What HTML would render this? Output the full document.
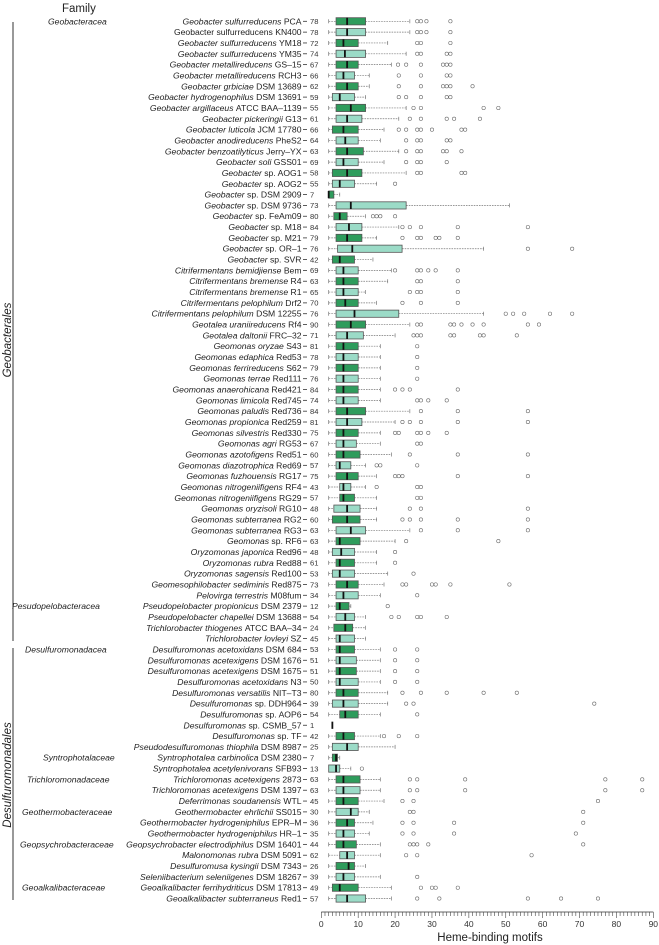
<!DOCTYPE html>
<html><head><meta charset="utf-8"><style>
html,body{margin:0;padding:0;background:#fff;}
svg{display:block;font-family:"Liberation Sans",sans-serif;}
</style></head><body>
<svg id="chart" width="659" height="945" viewBox="0 0 659 945" xmlns="http://www.w3.org/2000/svg"></svg>
<script>
const italics = ["Geobacter sulfurreducens","","Geobacter sulfurreducens","Geobacter sulfurreducens","Geobacter metallireducens","Geobacter metallireducens","Geobacter grbiciae","Geobacter hydrogenophilus","Geobacter argillaceus","Geobacter pickeringii","Geobacter luticola","Geobacter anodireducens","Geobacter benzoatilyticus","Geobacter soli","Geobacter","Geobacter","Geobacter","Geobacter","Geobacter","Geobacter","Geobacter","Geobacter","Geobacter","Citrifermentans bemidjiense","Citrifermentans bremense","Citrifermentans bremense","Citrifermentans pelophilum","Citrifermentans pelophilum","Geotalea uraniireducens","Geotalea daltonii","Geomonas oryzae","Geomonas edaphica","Geomonas ferrireducens","Geomonas terrae","Geomonas anaerohicana","Geomonas limicola","Geomonas paludis","Geomonas propionica","Geomonas silvestris","Geomonas agri","Geomonas azotofigens","Geomonas diazotrophica","Geomonas fuzhouensis","Geomonas nitrogeniifigens","Geomonas nitrogeniifigens","Geomonas oryzisoli","Geomonas subterranea","Geomonas subterranea","Geomonas","Oryzomonas japonica","Oryzomonas rubra","Oryzomonas sagensis","Geomesophilobacter sediminis","Pelovirga terrestris","Pseudopelobacter propionicus","Pseudopelobacter chapellei","Trichlorobacter thiogenes","Trichlorobacter lovleyi","Desulfuromonas acetoxidans","Desulfuromonas acetexigens","Desulfuromonas acetexigens","Desulfuromonas acetoxidans","Desulfuromonas versatilis","Desulfuromonas","Desulfuromonas","Desulfuromonas","Desulfuromonas","Pseudodesulfuromonas thiophila","Syntrophotalea carbinolica","Syntrophotalea acetylenivorans","Trichloromonas acetexigens","Trichloromonas acetexigens","Deferrimonas soudanensis","Geothermobacter ehrlichii","Geothermobacter hydrogeniphilus","Geothermobacter hydrogeniphilus","Geopsychrobacter electrodiphilus","Malonomonas rubra","Desulfuromusa kysingii","Seleniibacterium seleniigenes","Geoalkalibacter ferrihydriticus","Geoalkalibacter subterraneus"];
const strains = ["PCA","Geobacter sulfurreducens KN400","YM18","YM35","GS\u201315","RCH3","DSM 13689","DSM 13691","ATCC BAA\u20131139","G13","JCM 17780","PheS2","Jerry\u2013YX","GSS01","sp. AOG1","sp. AOG2","sp. DSM 2909","sp. DSM 9736","sp. FeAm09","sp. M18","sp. M21","sp. OR\u20131","sp. SVR","Bem","R4","R1","Drf2","DSM 12255","Rf4","FRC\u201332","S43","Red53","S62","Red111","Red421","Red745","Red736","Red259","Red330","RG53","Red51","Red69","RG17","RF4","RG29","RG10","RG2","RG3","sp. RF6","Red96","Red88","Red100","Red875","M08fum","DSM 2379","DSM 13688","ATCC BAA\u201334","SZ","DSM 684","DSM 1676","DSM 1675","N3","NIT\u2013T3","sp. DDH964","sp. AOP6","sp. CSMB_57","sp. TF","DSM 8987","DSM 2380","SFB93","2873","DSM 1397","WTL","SS015","EPR\u2013M","HR\u20131","DSM 16401","DSM 5091","DSM 7343","DSM 18267","DSM 17813","Red1"];
const counts = [78,78,72,74,67,66,62,59,55,61,66,64,63,69,58,55,7,73,80,84,79,76,42,69,63,65,70,76,90,71,81,78,79,76,84,74,84,81,75,67,60,57,75,43,57,48,60,63,63,48,61,53,73,34,12,54,24,45,53,51,51,50,80,39,54,1,42,25,7,13,63,63,45,30,36,35,44,62,26,39,49,57];
const q1 = [4,4,4,4,4,4,4,3,4,4,3,4,4,4,3,3,2,4,3.4,4,4,4.4,3,4,4,4,4,4,4,4,4,4,4,4,4,4,4,4,4,4,4,4,4,5,5,3.4,3,4,4,3,4,3,4,4,4,4,3.4,4,4,4,4,4,4,3,5,3,4,3,3,2,4,4,4,4,4,4,4,5,4,4,3,4];
const medians = [7,7,6,6.4,7,6,7,5,8,7,6,6.5,7,6,7,5,2,8,5,7.5,7,8.4,5,6,6,6,6.5,9,8,7,6,6,6,6,6,6,7,7,6,6,6,5,7,6,6,7,7,8,5,5.4,5,5,7,6,5,6.5,6.5,5,5,5,5,5,6,6,6.5,3,6,7,4,4,6,6,6,8,7,6,6,7,7.4,6,5,7];
const q3 = [12,12,10,12,10,9,10,9,12,11,10,10,11.4,10,11,9,3.4,23,7,11,11,21.9,9,10,10,10,10,21,12,11.4,10,10,10,10,10,10,12,11,10,9.5,10.5,8,10,8,9,10.5,10.5,12,10.5,9,9,9,10,10,7.5,9,8.5,9,9,9.5,9.5,10,10,10,10,3,9,10,4.4,5,10.5,10.5,10,10,9,9,9.5,9,9,9,10,12];
const whiskLo = [2,2,2,2,2,2,2,2,2,2,2,2,2,2,2,2,2,2,2,2,2,2,2,2,2,2,2,2,2,2,2,2,2,2,2,2,2,2,2,2,2,2,2,2,2,2,2,2,2,2,2,2,2,2,2,2,2,2,2,2,2,2,2,2,2,3,2,2,2,2,2,2,2,2,2,2,2,2,2,2,2,2];
const whiskHi = [24,24,18,23,19,13,13,12,23,21,17,16,21,17,23,15,5,51,12,21,15,44,14,19,18,12,15,44,24,20,16,16,16,16,16,16,24,20,16,16,19,12,15,12,15,15,15,24,20,15,15,18,17,16,8,12,12,12,16,16,16,16,18,18,16,3,16,20,5,8,16,16,17,13,14,13,16,16,12,16,19,19];
const outliers = [[26,27,28.5,35],[26,27,28.5,35],[26,27,35],[26,27,34,35],[20.8,23,27,33,34,35],[21,27,34,35],[21,27,33,34,35,41],[21,23,27,34,35],[25,27,44,48],[24,27,34,36,43],[21,23,26,27,30,38,39],[23,26,27,34,35],[23,26,27,33,34,38],[23,26,27,34],[26,27,38,39],[20],[],[],[14,15,16,20],[22,24,27,37,56],[22,26,27,31,32,37],[56,68],[],[20,26,27,29,31,37],[26,27,37],[24,26,27,37],[22,27,37],[50,52,55,62,68],[26,27,35,36,38,41,44,56,59],[25,26,27,35,36,43,44,53],[26],[26],[26],[26],[20,22,24,37],[26,27,29,34],[27,37,56],[22,24,27,37,56],[20,21,26,27,29,34],[26,27],[24,37,56],[15,16,26],[20,21,22,37,56],[15,26,27],[26,27],[24,27,56],[22,24,27,37,56],[27,37,56],[23,48],[20],[20],[25],[22,23,30,31,35,51],[26],[18],[19,21,26,27,34],[],[],[20,26],[20,26],[20,26],[20,26],[22,27,34,44,53],[23,25,74],[26],[],[17,21,26],[],[],[11],[24,26,39,77,87],[24,26,39,77,87],[22,25,75],[24,25,71],[22,25,36,71],[22,25,36,69],[24,25,26,29,71],[23,26,57],[],[26],[27,30,31,37],[26,32,56,65,75]];
const xTicks = [0,10,20,30,40,50,60,70,80,90];
const families = ["Geobacteracea","Pesudopelobacteracea","Desulfuromonadacea","Syntrophotalaceae","Trichloromonadaceae","Geothermobacteraceae","Geopsychrobacteraceae","Geoalkalibacteraceae"];
const familyRows = [0,54,58,68,70,73,76,80];
const familyX = [48,12,25,43,27,22,20,22];

const NS = "http://www.w3.org/2000/svg";
const svg = document.getElementById('chart');
const X0 = 321.3, X1 = 653.3, XMAX = 90;
const xs = v => X0 + v * (X1 - X0) / XMAX;
const ys = i => 21.3 + i * 10.83;
function mk(tag, attrs, parent) {
  const e = document.createElementNS(NS, tag);
  for (const k in attrs) e.setAttribute(k, attrs[k]);
  (parent || svg).appendChild(e);
  return e;
}

// header
let t = mk('text', {x: 62, y: 12, 'font-size': 11.5, fill: '#222'});
t.textContent = 'Family';



// order brackets
let l = mk('line', {x1: 13, y1: 22, x2: 13, y2: 641, stroke: '#333', 'stroke-width': 1});


l = mk('line', {x1: 13, y1: 648, x2: 13, y2: 900, stroke: '#333', 'stroke-width': 1});


t = mk('text', {x: 0, y: 0, 'font-size': 11.5, 'font-style': 'italic', fill: '#222', 'text-anchor': 'middle', transform: 'translate(11,340) rotate(-90)'});
t.textContent = 'Geobacterales';


t = mk('text', {x: 0, y: 0, 'font-size': 11.5, 'font-style': 'italic', fill: '#222', 'text-anchor': 'middle', transform: 'translate(11,775) rotate(-90)'});
t.textContent = 'Desulfuromonadales';



// family labels
families.forEach((f, k) => {
  const ft = mk('text', {x: familyX[k], y: ys(familyRows[k]) + 3, 'font-size': 8.6, 'font-style': 'italic', fill: '#222'});
  ft.textContent = f;
  
  
});

// rows
italics.forEach((it, i) => {
  const y = ys(i);
  const lab = mk('text', {x: 301.5, y: y + 3, 'font-size': 8.6, fill: '#222', 'text-anchor': 'end'});
  
  
  if (it) {
    const s1 = mk('tspan', {'font-style': 'italic'}, lab); s1.textContent = it + ' ';
  }
  const s2 = mk('tspan', {}, lab); s2.textContent = strains[i];
  mk('line', {x1: 303, y1: y, x2: 307, y2: y, stroke: '#333', 'stroke-width': 0.8});
  const c = mk('text', {x: 310, y: y + 2.8, 'font-size': 7.6, fill: '#333'});
  c.textContent = counts[i];
  
  

  const g = mk('g', {});
  
  
  const h = 3.6;
  // whiskers
  if (q1[i] > whiskLo[i]) {
    mk('line', {x1: xs(whiskLo[i]), y1: y, x2: xs(q1[i]), y2: y, stroke: '#777', 'stroke-width': 0.7, 'stroke-dasharray': '1.6,1'}, g);
    mk('line', {x1: xs(whiskLo[i]), y1: y - 2, x2: xs(whiskLo[i]), y2: y + 2, stroke: '#777', 'stroke-width': 0.7}, g);
  }
  if (whiskHi[i] > q3[i]) {
    mk('line', {x1: xs(q3[i]), y1: y, x2: xs(whiskHi[i]), y2: y, stroke: '#777', 'stroke-width': 0.7, 'stroke-dasharray': '1.6,1'}, g);
    mk('line', {x1: xs(whiskHi[i]), y1: y - 2, x2: xs(whiskHi[i]), y2: y + 2, stroke: '#777', 'stroke-width': 0.7}, g);
  }
  const box = mk('rect', {x: xs(q1[i]), y: y - h, width: Math.max(0, xs(q3[i]) - xs(q1[i])), height: 2 * h,
    fill: i % 2 === 0 ? '#2e9c5c' : '#9bdbc7', stroke: '#555', 'stroke-width': 0.8}, g);
  
  
  const md = mk('line', {x1: xs(medians[i]), y1: y - h, x2: xs(medians[i]), y2: y + h, stroke: '#111', 'stroke-width': 1.8}, g);
  
  
  outliers[i].forEach(o => {
    const ci = mk('circle', {cx: xs(o), cy: y, r: 1.7, fill: 'none', stroke: '#666', 'stroke-width': 0.6}, g);
    
    
  });
});

// x axis
const axY = 912;
const ax = mk('g', {});


mk('line', {x1: X0, y1: axY, x2: X1, y2: axY, stroke: '#333', 'stroke-width': 0.8}, ax);
for (let v = 0; v <= XMAX; v++) {
  const major = v % 10 === 0;
  mk('line', {x1: xs(v), y1: axY, x2: xs(v), y2: axY + (major ? 6 : 4), stroke: '#444', 'stroke-width': 0.6}, ax);
}
xTicks.forEach(v => {
  const tl = mk('text', {x: xs(v), y: axY + 15, 'font-size': 8.5, fill: '#333', 'text-anchor': 'middle'}, ax);
  tl.textContent = v;
  
  
});
t = mk('text', {x: 490, y: 941, 'font-size': 11.5, fill: '#222', 'text-anchor': 'middle'});
t.textContent = 'Heme-binding motifs';


</script>
</body></html>
